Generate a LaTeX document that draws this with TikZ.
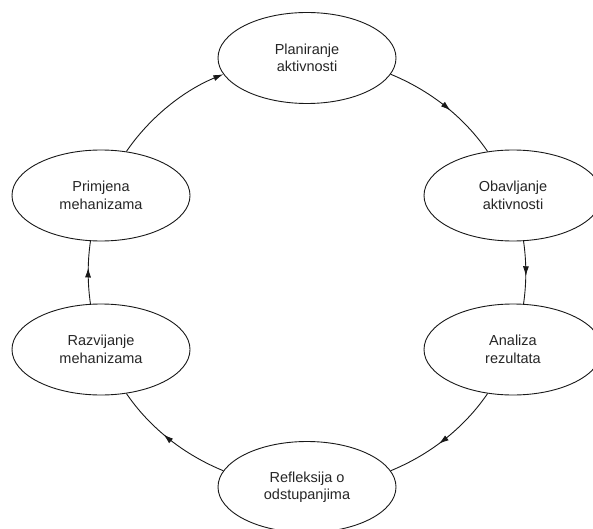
\documentclass[tikz,border=0pt]{standalone}
\usepackage{fontspec}
\setmainfont{Liberation Sans}
\usetikzlibrary{shapes.geometric,arrows.meta,decorations.markings}
\begin{document}
\begin{tikzpicture}[x=1pt,y=1pt,
  stage/.style={ellipse,draw=black!90,line width=0.9pt,minimum width=178pt,minimum height=91pt,
    inner sep=0pt,align=center,text=black!85,font=\fontsize{14.5}{17.5}\selectfont,fill=white},
  link/.style={line width=0.9pt,draw=black!90},
  flowtip/.tip={Latex[length=10pt,width=6pt]},
  midarrow/.style={postaction={decorate},
    decoration={markings,mark=at position #1 with {\arrow{flowtip}}}},
]
\clip (0,0) rectangle (593,528);
\node[stage] (plan) at (307,470) {Planiranje\\aktivnosti};
\node[stage] (obav) at (513,332.5) {Obavljanje\\aktivnosti};
\node[stage] (anal) at (513,178.5) {Analiza\\rezultata};
\node[stage] (refl) at (307,41) {Refleksija o\\odstupanjima};
\node[stage] (razv) at (101,178.5) {Razvijanje\\mehanizama};
\node[stage] (prim) at (101,332.5) {Primjena\\mehanizama};

\draw[link,-{flowtip}] (prim.60) to[out=55.7,in=202.3,looseness=0.87] (plan.191);
\draw[link,midarrow=0.56] (plan.349) to[out=-22.3,in=124.3,looseness=0.87] (obav.120);
\draw[link,midarrow=0.56] (obav.283) to[out=-81.7,in=81.7,looseness=0.86] (anal.77);
\draw[link,midarrow=0.56] (anal.240) to[out=-124.3,in=22.3,looseness=0.87] (refl.11);
\draw[link,midarrow=0.56] (refl.169) to[out=157.7,in=-55.7,looseness=0.87] (razv.300);
\draw[link,midarrow=0.58] (razv.103) to[out=98.3,in=261.7,looseness=0.86] (prim.257);
\end{tikzpicture}
\end{document}
